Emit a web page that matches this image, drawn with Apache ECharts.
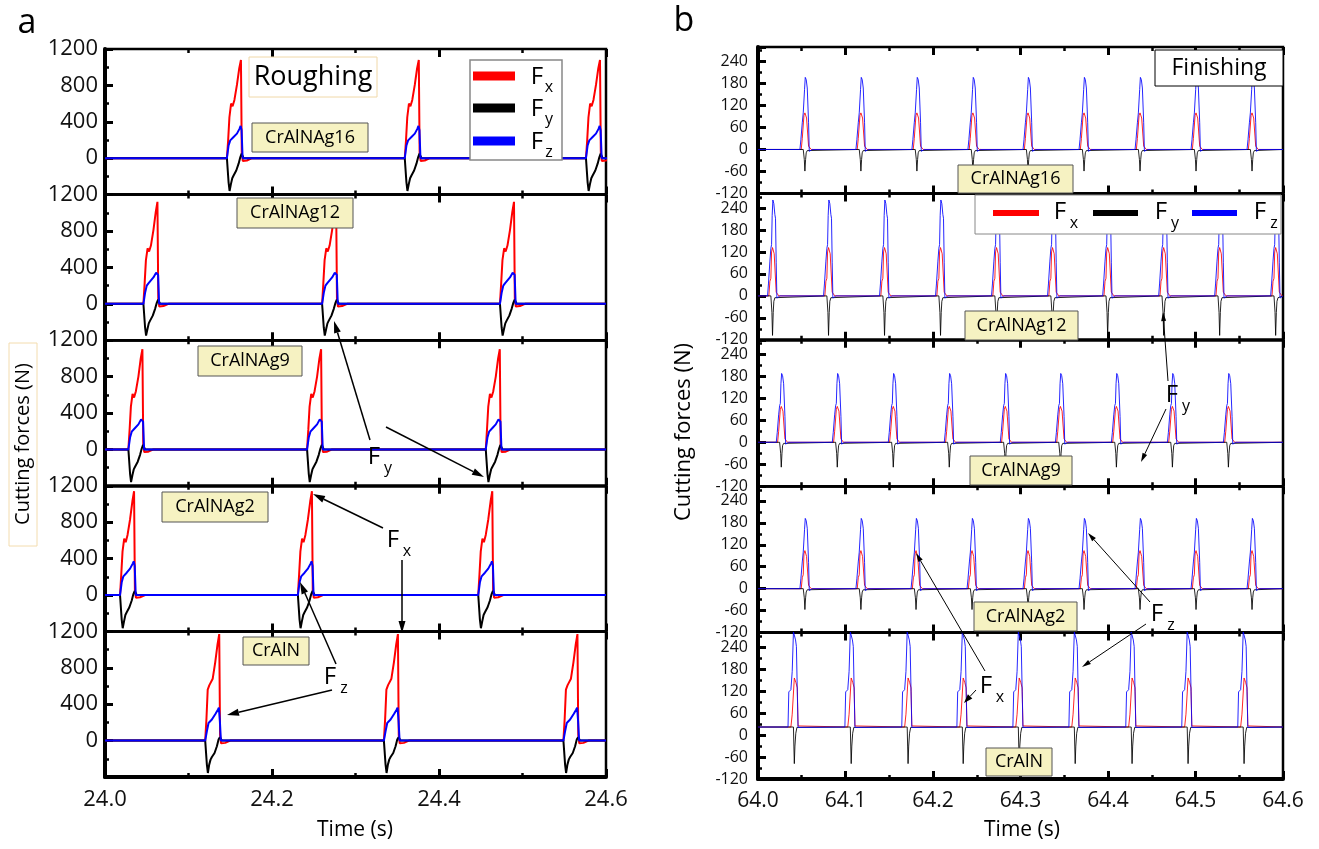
<!DOCTYPE html>
<html><head><meta charset="utf-8">
<script src="https://cdn.jsdelivr.net/npm/echarts@6/dist/echarts.min.js"></script>
<style>html,body{margin:0;padding:0;background:#fff}#c{width:1319px;height:849px}</style>
</head><body><div id="c"></div>
<script>
// ---------------- DATA ----------------
const coatings = ['CrAlNAg16', 'CrAlNAg12', 'CrAlNAg9', 'CrAlNAg2', 'CrAlN'];
const forceNames = ['x', 'y', 'z'];

// Panel a (Roughing): pulse onset times (s)
const roughOnsets_Ag16 = [24.146, 24.359, 24.576];
const roughOnsets_Ag12 = [24.046, 24.260, 24.473];
const roughOnsets_Ag9  = [24.028, 24.242, 24.456];
const roughOnsets_Ag2  = [24.018, 24.231, 24.447];
const roughOnsets_CrAlN = [24.120, 24.334, 24.549];

// Roughing pulse shape: time after onset (s) and force (N)
const roughT_Fx = [0, 0.0015, 0.003, 0.005, 0.0068, 0.009, 0.012, 0.0148, 0.0168, 0.0178, 0.019, 0.021, 0.024, 0.03];
const rough_Ag16_Fx  = [0, 200, 450, 600, 570, 640, 805, 990, 1080, 60, -30, -15, -25, 0];
const rough_Ag12_Fx  = [0, 230, 480, 610, 575, 640, 810, 1010, 1120, 60, -30, -15, -25, 0];
const rough_Ag9_Fx   = [0, 220, 470, 610, 570, 640, 800, 1000, 1100, 60, -30, -15, -25, 0];
const rough_Ag2_Fx   = [0, 230, 480, 620, 580, 660, 830, 1030, 1140, 60, -30, -15, -25, 0];
const rough_CrAlN_Fx = [0, 240, 560, 610, 600, 680, 860, 1060, 1170, 60, -30, -15, -25, 0];

const roughT_Fy = [0, 0.002, 0.0032, 0.0048, 0.0064, 0.008, 0.0112, 0.014, 0.016, 0.0176, 0.0188, 0.02, 0.03];
const rough_Ag16_Fy  = [0, -265, -360, -285, -220, -190, -135, -60, 10, 50, 30, 0, 0];
const rough_Ag12_Fy  = [0, -260, -350, -280, -215, -185, -130, -55, 10, 45, 25, 0, 0];
const rough_Ag9_Fy   = [0, -265, -360, -285, -220, -190, -135, -60, 10, 50, 30, 0, 0];
const rough_Ag2_Fy   = [0, -270, -365, -290, -220, -190, -135, -60, 10, 45, 25, 0, 0];
const rough_CrAlN_Fy = [0, -264, -356, -264, -209, -180, -136, -62, 11, 37, 20, 0, 0];

const roughT_Fz = [0, 0.002, 0.004, 0.006, 0.008, 0.012, 0.0152, 0.0164, 0.0176, 0.0188, 0.03];
const rough_Ag16_Fz  = [0, 140, 196, 215, 233, 270, 325, 355, 307, 0, 0];
const rough_Ag12_Fz  = [0, 120, 200, 225, 240, 290, 340, 360, 320, 0, 0];
const rough_Ag9_Fz   = [0, 130, 195, 215, 235, 275, 330, 350, 305, 0, 0];
const rough_Ag2_Fz   = [0, 140, 205, 225, 245, 290, 345, 370, 320, 0, 0];
const rough_CrAlN_Fz = [0, 103, 194, 215, 231, 290, 340, 363, 213, 0, 0];

// Panel b (Finishing): peak times (s)
const finPeaks_Ag16  = [64.054, 64.118, 64.182, 64.246, 64.309, 64.373, 64.437, 64.501, 64.565];
const finPeaks_Ag12  = [64.017, 64.081, 64.145, 64.209, 64.273, 64.337, 64.400, 64.464, 64.528, 64.592];
const finPeaks_Ag9   = [64.027, 64.091, 64.155, 64.219, 64.283, 64.346, 64.410, 64.474, 64.538];
const finPeaks_Ag2   = [64.054, 64.118, 64.181, 64.245, 64.309, 64.373, 64.437, 64.501, 64.565];
const finPeaks_CrAlN = [64.041, 64.106, 64.171, 64.234, 64.298, 64.362, 64.427, 64.491, 64.555];

// Finishing pulse shape (coated Ag variants): time relative to peak (s), force (N)
const finT_Fx = [-0.0046, -0.0034, -0.0023, -0.0015, -0.0004, 0.0015, 0.003, 0.0038, 0.0053, 0.0068];
const fin_Ag16_Fx = [0, 30, 35, 93, 100, 86, 86, 9, 5, 0];
const fin_Ag12_Fx = [0, 40, 48, 120, 132, 115, 110, 10, 5, 0];
const fin_Ag9_Fx  = [0, 30, 35, 90, 98, 85, 84, 9, 5, 0];
const fin_Ag2_Fx  = [0, 30, 38, 95, 104, 88, 86, 9, 5, 0];

const finT_Fy = [-0.0023, -0.0011, -0.0004, 0.0004, 0.0011, 0.0023, 0.004];
const fin_Ag16_Fy = [0, -27, -59, -27, -9, -3, 0];
const fin_Ag12_Fy = [0, -45, -108, -45, -15, -5, 0];
const fin_Ag9_Fy  = [0, -30, -68, -30, -9, -3, 0];
const fin_Ag2_Fy  = [0, -25, -57, -25, -9, -3, 0];

const finT_Fz = [-0.0061, -0.005, -0.0034, -0.0023, -0.0015, -0.0008, 0, 0.0011, 0.0023, 0.003, 0.0038, 0.0046, 0.0061, 0.008];
const fin_Ag16_Fz = [0, 27, 73, 100, 105, 164, 197, 191, 168, 164, 73, -5, -5, 0];
const fin_Ag12_Fz = [0, 35, 95, 130, 140, 220, 262, 252, 222, 212, 92, -6, -5, 0];
const fin_Ag9_Fz  = [0, 27, 75, 100, 106, 160, 188, 182, 160, 155, 70, -5, -5, 0];
const fin_Ag2_Fz  = [0, 27, 73, 100, 105, 162, 192, 186, 165, 160, 72, -5, -5, 0];

// Finishing pulse shape (CrAlN): baseline offset ~22 N
const finT5_Fx = [-0.0034, -0.0019, -0.0005, 0.0005, 0.0014, 0.0024, 0.0039, 0.0048, 0.0063];
const fin_CrAlN_Fx = [22, 57, 61, 156, 160, 143, 129, 25, 21];
const finT5_Fy = [-0.0005, 0, 0.0005, 0.0012, 0.0022, 0.0035];
const fin_CrAlN_Fy = [22, -30, -78, -30, 5, 21];
const finT5_Fz = [-0.0067, -0.0058, -0.0034, -0.0019, -0.0005, 0.001, 0.0019, 0.0029, 0.0039, 0.0048, 0.0063];
const fin_CrAlN_Fz = [22, 118, 124, 174, 282, 280, 260, 242, 120, 21, 19];

const roughBaseline = [0, 0, 0, 0, 0];
const finBaseline = [0, 0, 0, 0, 22];

// Axes
const roughX = {min: 24.0, max: 24.6, interval: 0.2};
const roughY = {min: -400, max: 1200, interval: 400};
const finX = {min: 64.0, max: 64.6, interval: 0.1};
const finY = {min: -120, max: 280, interval: 60};

// ---------------- BUILD ----------------
const FONT = '"Open Sans", "Noto Sans", sans-serif';
const COLORS = ['#ff0000', '#000000', '#0000ff'];

const roughSets = [
  [roughOnsets_Ag16, [rough_Ag16_Fx, rough_Ag16_Fy, rough_Ag16_Fz]],
  [roughOnsets_Ag12, [rough_Ag12_Fx, rough_Ag12_Fy, rough_Ag12_Fz]],
  [roughOnsets_Ag9,  [rough_Ag9_Fx,  rough_Ag9_Fy,  rough_Ag9_Fz]],
  [roughOnsets_Ag2,  [rough_Ag2_Fx,  rough_Ag2_Fy,  rough_Ag2_Fz]],
  [roughOnsets_CrAlN,[rough_CrAlN_Fx,rough_CrAlN_Fy,rough_CrAlN_Fz]]
];
const roughTimes = [roughT_Fx, roughT_Fy, roughT_Fz];
const finSets = [
  [finPeaks_Ag16, [fin_Ag16_Fx, fin_Ag16_Fy, fin_Ag16_Fz], [finT_Fx, finT_Fy, finT_Fz]],
  [finPeaks_Ag12, [fin_Ag12_Fx, fin_Ag12_Fy, fin_Ag12_Fz], [finT_Fx, finT_Fy, finT_Fz]],
  [finPeaks_Ag9,  [fin_Ag9_Fx,  fin_Ag9_Fy,  fin_Ag9_Fz],  [finT_Fx, finT_Fy, finT_Fz]],
  [finPeaks_Ag2,  [fin_Ag2_Fx,  fin_Ag2_Fy,  fin_Ag2_Fz],  [finT_Fx, finT_Fy, finT_Fz]],
  [finPeaks_CrAlN,[fin_CrAlN_Fx,fin_CrAlN_Fy,fin_CrAlN_Fz],[finT5_Fx, finT5_Fy, finT5_Fz]]
];

function pulseData(xmin, xmax, base, events, tArr, vArr) {
  const d = [[xmin, base]];
  events.forEach(e => tArr.forEach((t, i) => d.push([+(e + t).toFixed(5), vArr[i]])));
  d.push([xmax, base]);
  return d;
}

const grids = [], xAxes = [], yAxes = [], series = [];
const LP = {left: 105, width: 501, tops: [49, 194.6, 340.2, 485.8, 631.4], h: 145.6};
const RP = {left: 758, width: 525, tops: [47, 193.4, 339.8, 486.2, 632.6], h: 146.4};

function addPanel(P, X, Y, opts) {
  for (let i = 0; i < 5; i++) {
    const g = grids.length;
    grids.push({left: P.left, top: P.tops[i], width: P.width, height: P.h, show: true,
      borderColor: '#000', borderWidth: 2.5, backgroundColor: 'transparent'});
    const tick = {show: true, inside: true, length: 8, lineStyle: {color: '#000', width: 3}};
    const minor = {show: true, splitNumber: 2, length: 4, lineStyle: {color: '#000', width: 2.5}};
    const xb = {gridIndex: g, type: 'value', min: X.min, max: X.max, interval: X.interval, position: 'bottom',
      axisLine: {show: true, onZero: false, lineStyle: {color: '#000', width: i === 4 ? 4 : 2.5}},
      axisTick: tick, minorTick: minor, splitLine: {show: false}, minorSplitLine: {show: false},
      axisLabel: {show: i === 4, fontSize: opts.xFont, fontFamily: FONT, color: '#111', margin: 12,
        formatter: v => v.toFixed(1), showMinLabel: true, showMaxLabel: true}};
    xAxes.push(xb);
    xAxes.push(Object.assign({}, xb, {position: 'top', axisLine: {show: false, onZero: false}, axisLabel: {show: false}}));
    yAxes.push({gridIndex: g, type: 'value', min: Y.min, max: Y.max, interval: Y.interval,
      axisLine: {show: true, onZero: false, lineStyle: {color: '#000', width: 4}},
      axisTick: tick, minorTick: minor, splitLine: {show: false}, minorSplitLine: {show: false},
      axisLabel: {fontSize: opts.yFont, fontFamily: FONT, color: '#111', margin: opts.yMargin,
        showMinLabel: opts.showMin,
        formatter: v => (Math.abs(v % Y.interval) < 1e-6 ? String(v) : '')}});
    const set = opts.sets[i];
    for (let f = 0; f < 3; f++) {
      const tArr = opts.times ? opts.times[f] : set[2][f];
      series.push({type: 'line', xAxisIndex: 2 * g, yAxisIndex: g,
        data: pulseData(X.min, X.max, opts.base[i], set[0], tArr, set[1][f]),
        showSymbol: false, symbol: 'none', silent: true, animation: false,
        lineStyle: {color: COLORS[f], width: opts.lw, opacity: opts.op}, z: 2 + f});
    }
  }
}
addPanel(LP, roughX, roughY, {xFont: 22, yFont: 22, yMargin: 7, showMin: false, sets: roughSets, times: roughTimes, base: roughBaseline, lw: 2, op: 1});
addPanel(RP, finX, finY, {xFont: 21, yFont: 16, yMargin: 10, showMin: true, sets: finSets, times: null, base: finBaseline, lw: 1, op: 0.85});

// ---------------- ANNOTATIONS ----------------
const G = [];
function txt(x, y, s, fs, opt) {
  G.push(Object.assign({type: 'text', x, y, z: 101, style: {text: s, fontSize: fs, fontFamily: FONT, fill: '#000', align: 'center', verticalAlign: 'middle'}}, opt || {}));
}
function box(x, y, w, h, fill, stroke, s, fs, lw) {
  G.push({type: 'rect', z: 100, shape: {x, y, width: w, height: h}, style: {fill, stroke, lineWidth: lw || 1}});
  txt(x + w / 2, y + h / 2, s, fs);
}
function sub(x, y, main, s, fs, sfs, dx, dy) {
  txt(x, y, main, fs);
  txt(x + dx, y + dy, s, sfs);
}
function arrow(x1, y1, x2, y2, w, hl, hw) {
  const a = Math.atan2(y2 - y1, x2 - x1);
  const bx = x2 - hl * Math.cos(a), by = y2 - hl * Math.sin(a);
  const px = -Math.sin(a) * hw / 2, py = Math.cos(a) * hw / 2;
  G.push({type: 'line', z: 100, shape: {x1, y1, x2: bx, y2: by}, style: {stroke: '#000', lineWidth: w}});
  G.push({type: 'polygon', z: 100, shape: {points: [[x2, y2], [bx + px, by + py], [bx - px, by - py]]}, style: {fill: '#000'}});
}
const LABEL_FILL = '#f6f2c2';
// panel labels
txt(27, 23, 'a', 34);
txt(684, 21, 'b', 34);
// left panel
box(249, 57, 128, 40, '#fff', '#f0d8a8', 'Roughing', 27);
box(252, 123, 116, 29, LABEL_FILL, '#555', coatings[0], 18);
box(237, 198, 116, 30, LABEL_FILL, '#555', coatings[1], 18);
box(198, 346, 104, 30, LABEL_FILL, '#555', coatings[2], 18);
box(162, 492, 106, 30, LABEL_FILL, '#555', coatings[3], 18);
box(243, 637, 66, 28, LABEL_FILL, '#555', coatings[4], 18);
// left legend
G.push({type: 'rect', z: 100, shape: {x: 470, y: 60, width: 92, height: 100}, style: {fill: '#fff', stroke: '#888', lineWidth: 1.5}});
[76, 108, 141].forEach((y, i) => {
  G.push({type: 'line', z: 101, shape: {x1: 473, y1: y, x2: 515, y2: y}, style: {stroke: COLORS[i], lineWidth: 9}});
  sub(537, y + 1, 'F', forceNames[i], 24, 16, 12, 10);
});
// left y title
G.push({type: 'rect', z: 99, shape: {x: 9, y: 343, width: 28, height: 203}, style: {fill: 'none', stroke: '#f3dcae', lineWidth: 1}});
txt(23, 444, 'Cutting forces (N)', 20, {rotation: Math.PI / 2});
txt(355, 830, 'Time (s)', 21);
// left annotations
sub(374, 457, 'F', 'y', 24, 16, 14, 11);
arrow(370, 440, 334, 321, 1.5, 12, 7);
arrow(386, 427, 484, 477, 1.5, 12, 7);
sub(393, 540, 'F', 'x', 24, 16, 14, 11);
arrow(383, 528, 313, 494, 1.5, 12, 7);
arrow(402, 560, 402, 633, 1.5, 12, 7);
sub(330, 677, 'F', 'z', 24, 16, 14, 11);
arrow(336, 664, 300, 582, 1.5, 12, 7);
arrow(332, 690, 227, 715, 1.5, 12, 7);

// right panel
box(1155, 50, 128, 36, '#fff', '#000', 'Finishing', 23);
box(958, 165, 115, 28, LABEL_FILL, '#555', coatings[0], 18);
box(965, 311, 113, 29, LABEL_FILL, '#555', coatings[1], 18);
box(970, 456, 102, 29, LABEL_FILL, '#555', coatings[2], 18);
box(974, 602, 103, 29, LABEL_FILL, '#555', coatings[3], 18);
box(986, 748, 66, 28, LABEL_FILL, '#555', coatings[4], 18);
// right legend
G.push({type: 'rect', z: 100, shape: {x: 975, y: 195, width: 306, height: 39}, style: {fill: '#fff', stroke: '#888', lineWidth: 1}});
[[993, 1039, 1060], [1093, 1138, 1161], [1192, 1237, 1260]].forEach((p, i) => {
  G.push({type: 'line', z: 101, shape: {x1: p[0], y1: 213, x2: p[1], y2: 213}, style: {stroke: COLORS[i], lineWidth: 6}});
  sub(p[2], 212, 'F', forceNames[i], 24, 16, 14, 11);
});
txt(684, 432, 'Cutting forces (N)', 22, {rotation: Math.PI / 2});
txt(1022, 830, 'Time (s)', 21);
// right annotations
sub(1172, 395, 'F', 'y', 24, 16, 14, 11);
arrow(1168, 381, 1163, 312, 1, 9, 5);
arrow(1166, 409, 1141, 462, 1, 9, 5);
sub(1157, 614, 'F', 'z', 24, 16, 14, 11);
arrow(1150, 602, 1088, 533, 1, 9, 5);
arrow(1146, 624, 1082, 667, 1, 9, 5);
sub(986, 686, 'F', 'x', 24, 16, 14, 11);
arrow(985, 671, 916, 553, 1, 9, 5);
arrow(976, 690, 964, 703, 1, 9, 6);

const chart = echarts.init(document.getElementById('c'), null, {renderer: 'canvas', width: 1319, height: 849});
chart.setOption({
  animation: false,
  backgroundColor: '#fff',
  grid: grids, xAxis: xAxes, yAxis: yAxes, series: series,
  graphic: {elements: G}
});
</script></body></html>
